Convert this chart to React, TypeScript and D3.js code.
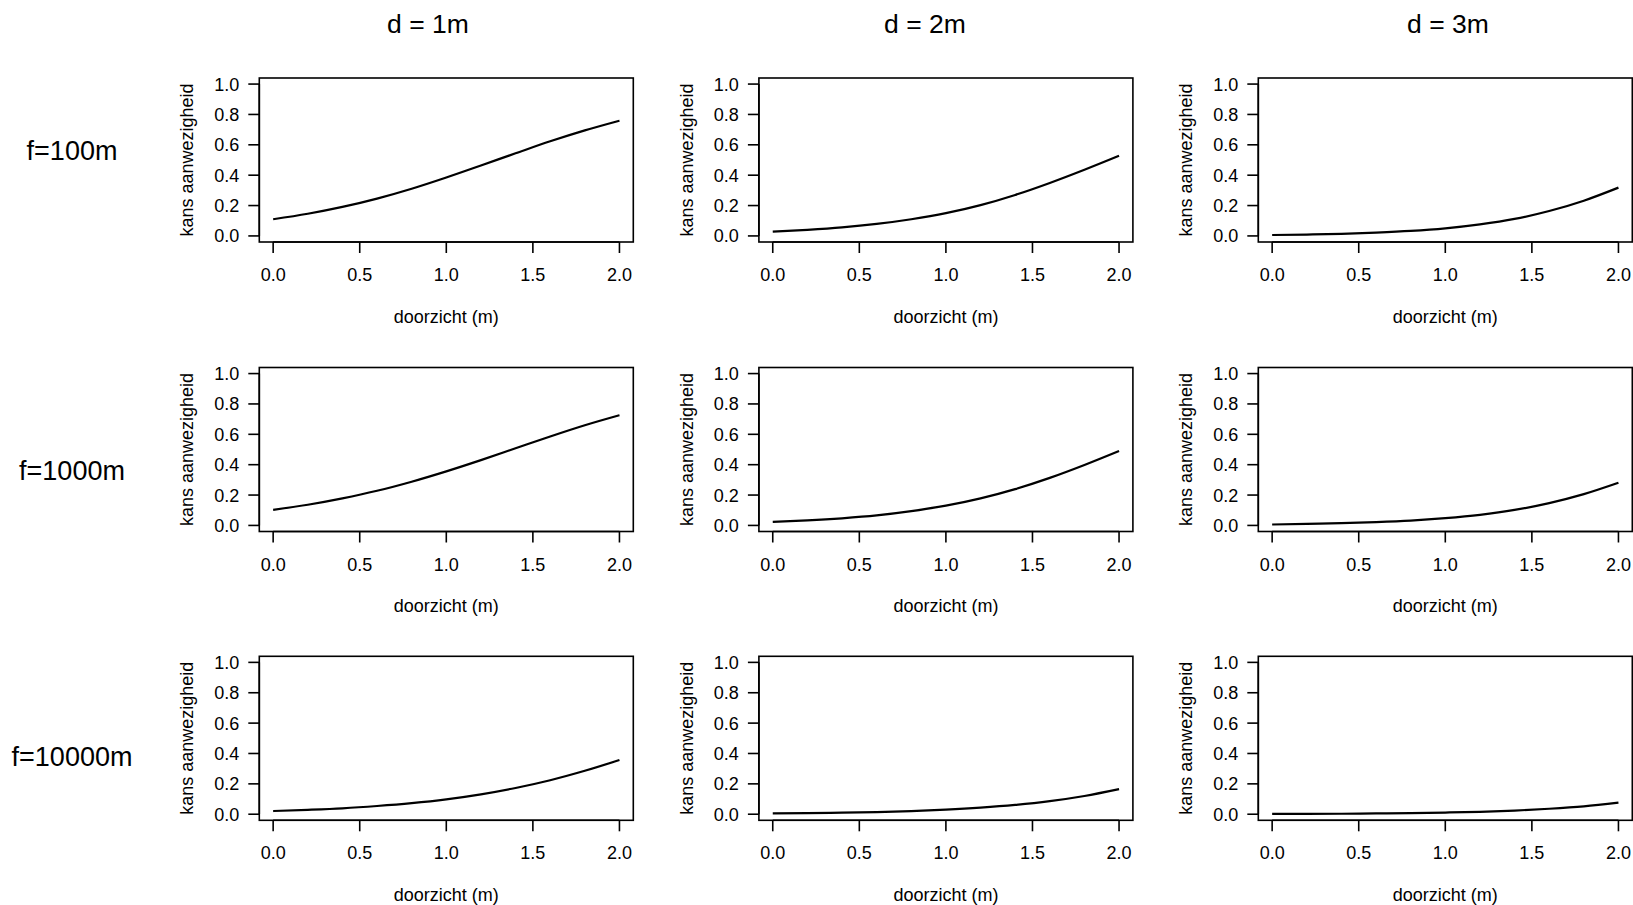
import React from "react";
import * as d3 from "d3";

const columnTitles = ["d = 1m", "d = 2m", "d = 3m"];
const rowTitles = ["f=100m", "f=1000m", "f=10000m"];
const xTicks = [0, 0.5, 1, 1.5, 2];
const yTicks = [0, 0.2, 0.4, 0.6, 0.8, 1.0];
const xLabel = "doorzicht (m)";
const yLabel = "kans aanwezigheid";

const doorzicht = [0, 0.2, 0.4, 0.6, 0.8, 1.0, 1.2, 1.4, 1.6, 1.8, 2.0];

// rows: f=100m, f=1000m, f=10000m ; columns: d = 1m, 2m, 3m
const f100_d1 = [0.110, 0.146, 0.191, 0.246, 0.311, 0.385, 0.464, 0.544, 0.623, 0.695, 0.759];
const f100_d2 = [0.028, 0.040, 0.056, 0.079, 0.110, 0.150, 0.203, 0.270, 0.349, 0.436, 0.528];
const f100_d3 = [0.006, 0.009, 0.014, 0.022, 0.033, 0.050, 0.076, 0.112, 0.164, 0.232, 0.318];
const f1000_d1 = [0.103, 0.136, 0.178, 0.228, 0.288, 0.356, 0.430, 0.508, 0.586, 0.660, 0.726];
const f1000_d2 = [0.023, 0.033, 0.047, 0.066, 0.094, 0.130, 0.178, 0.239, 0.313, 0.398, 0.490];
const f1000_d3 = [0.006, 0.010, 0.015, 0.022, 0.032, 0.048, 0.070, 0.102, 0.147, 0.206, 0.281];
const f10000_d1 = [0.021, 0.029, 0.039, 0.054, 0.073, 0.098, 0.131, 0.173, 0.224, 0.286, 0.357];
const f10000_d2 = [0.005, 0.007, 0.010, 0.014, 0.021, 0.030, 0.043, 0.061, 0.086, 0.120, 0.165];
const f10000_d3 = [0.002, 0.002, 0.003, 0.005, 0.007, 0.011, 0.016, 0.024, 0.036, 0.052, 0.076];

const panels = [
  [f100_d1, f100_d2, f100_d3],
  [f1000_d1, f1000_d2, f1000_d3],
  [f10000_d1, f10000_d2, f10000_d3],
];

const WIDTH = 1633;
const HEIGHT = 905;
const colLeft = [259.3, 758.9, 1258.3];
const rowTop = [78, 367.5, 656.3];
const boxW = 374;
const boxH = 164;
const colTitleX = [428, 925, 1448];
const rowTitleY = [160, 480, 765.5];
const FONT = "'Liberation Sans', Arial, sans-serif";

function Panel({ values, left, top }: { values: number[]; left: number; top: number }) {
  const x = d3.scaleLinear().domain([-0.08, 2.08]).range([left, left + boxW]);
  const y = d3.scaleLinear().domain([-0.04, 1.04]).range([top + boxH, top]);
  const line = d3
    .line<number>()
    .x((_, i) => x(doorzicht[i]))
    .y((v) => y(v))
    .curve(d3.curveMonotoneX);
  const bottom = top + boxH;
  const tickLen = 11;
  return (
    <g>
      <rect x={left} y={top} width={boxW} height={boxH} fill="none" stroke="#000" strokeWidth={1.6} />
      {/* y axis */}
      <line x1={left} x2={left} y1={y(0)} y2={y(1)} stroke="#000" strokeWidth={1.6} />
      {yTicks.map((t) => (
        <g key={"y" + t}>
          <line x1={left - tickLen} x2={left} y1={y(t)} y2={y(t)} stroke="#000" strokeWidth={1.6} />
          <text
            x={left - 20}
            y={y(t) + 6.5}
            textAnchor="end"
            fontSize={18}
            fontFamily={FONT}
            fill="#000"
          >
            {t.toFixed(1)}
          </text>
        </g>
      ))}
      {/* x axis */}
      <line x1={x(0)} x2={x(2)} y1={bottom} y2={bottom} stroke="#000" strokeWidth={1.6} />
      {xTicks.map((t) => (
        <g key={"x" + t}>
          <line x1={x(t)} x2={x(t)} y1={bottom} y2={bottom + tickLen} stroke="#000" strokeWidth={1.6} />
          <text x={x(t)} y={bottom + 39} textAnchor="middle" fontSize={18} fontFamily={FONT} fill="#000">
            {t.toFixed(1)}
          </text>
        </g>
      ))}
      <text
        x={left + boxW / 2}
        y={bottom + 80.5}
        textAnchor="middle"
        fontSize={18}
        fontFamily={FONT}
        fill="#000"
      >
        {xLabel}
      </text>
      <text
        transform={`translate(${left - 66},${top + boxH / 2}) rotate(-90)`}
        textAnchor="middle"
        fontSize={18}
        fontFamily={FONT}
        fill="#000"
      >
        {yLabel}
      </text>
      <path d={line(values) || ""} fill="none" stroke="#000" strokeWidth={2.2} />
    </g>
  );
}

export default function App() {
  return (
    <svg
      width={WIDTH}
      height={HEIGHT}
      style={{ position: "absolute", left: 0, top: 0, background: "#fff" }}
    >
      <rect x={0} y={0} width={WIDTH} height={HEIGHT} fill="#fff" />
      {columnTitles.map((t, i) => (
        <text key={t} x={colTitleX[i]} y={33} textAnchor="middle" fontSize={26.5} fontFamily={FONT} fill="#000">
          {t}
        </text>
      ))}
      {rowTitles.map((t, i) => (
        <text key={t} x={72} y={rowTitleY[i]} textAnchor="middle" fontSize={27} fontFamily={FONT} fill="#000">
          {t}
        </text>
      ))}
      {panels.map((row, r) =>
        row.map((vals, c) => (
          <Panel key={r + "-" + c} values={vals} left={colLeft[c]} top={rowTop[r]} />
        ))
      )}
    </svg>
  );
}
